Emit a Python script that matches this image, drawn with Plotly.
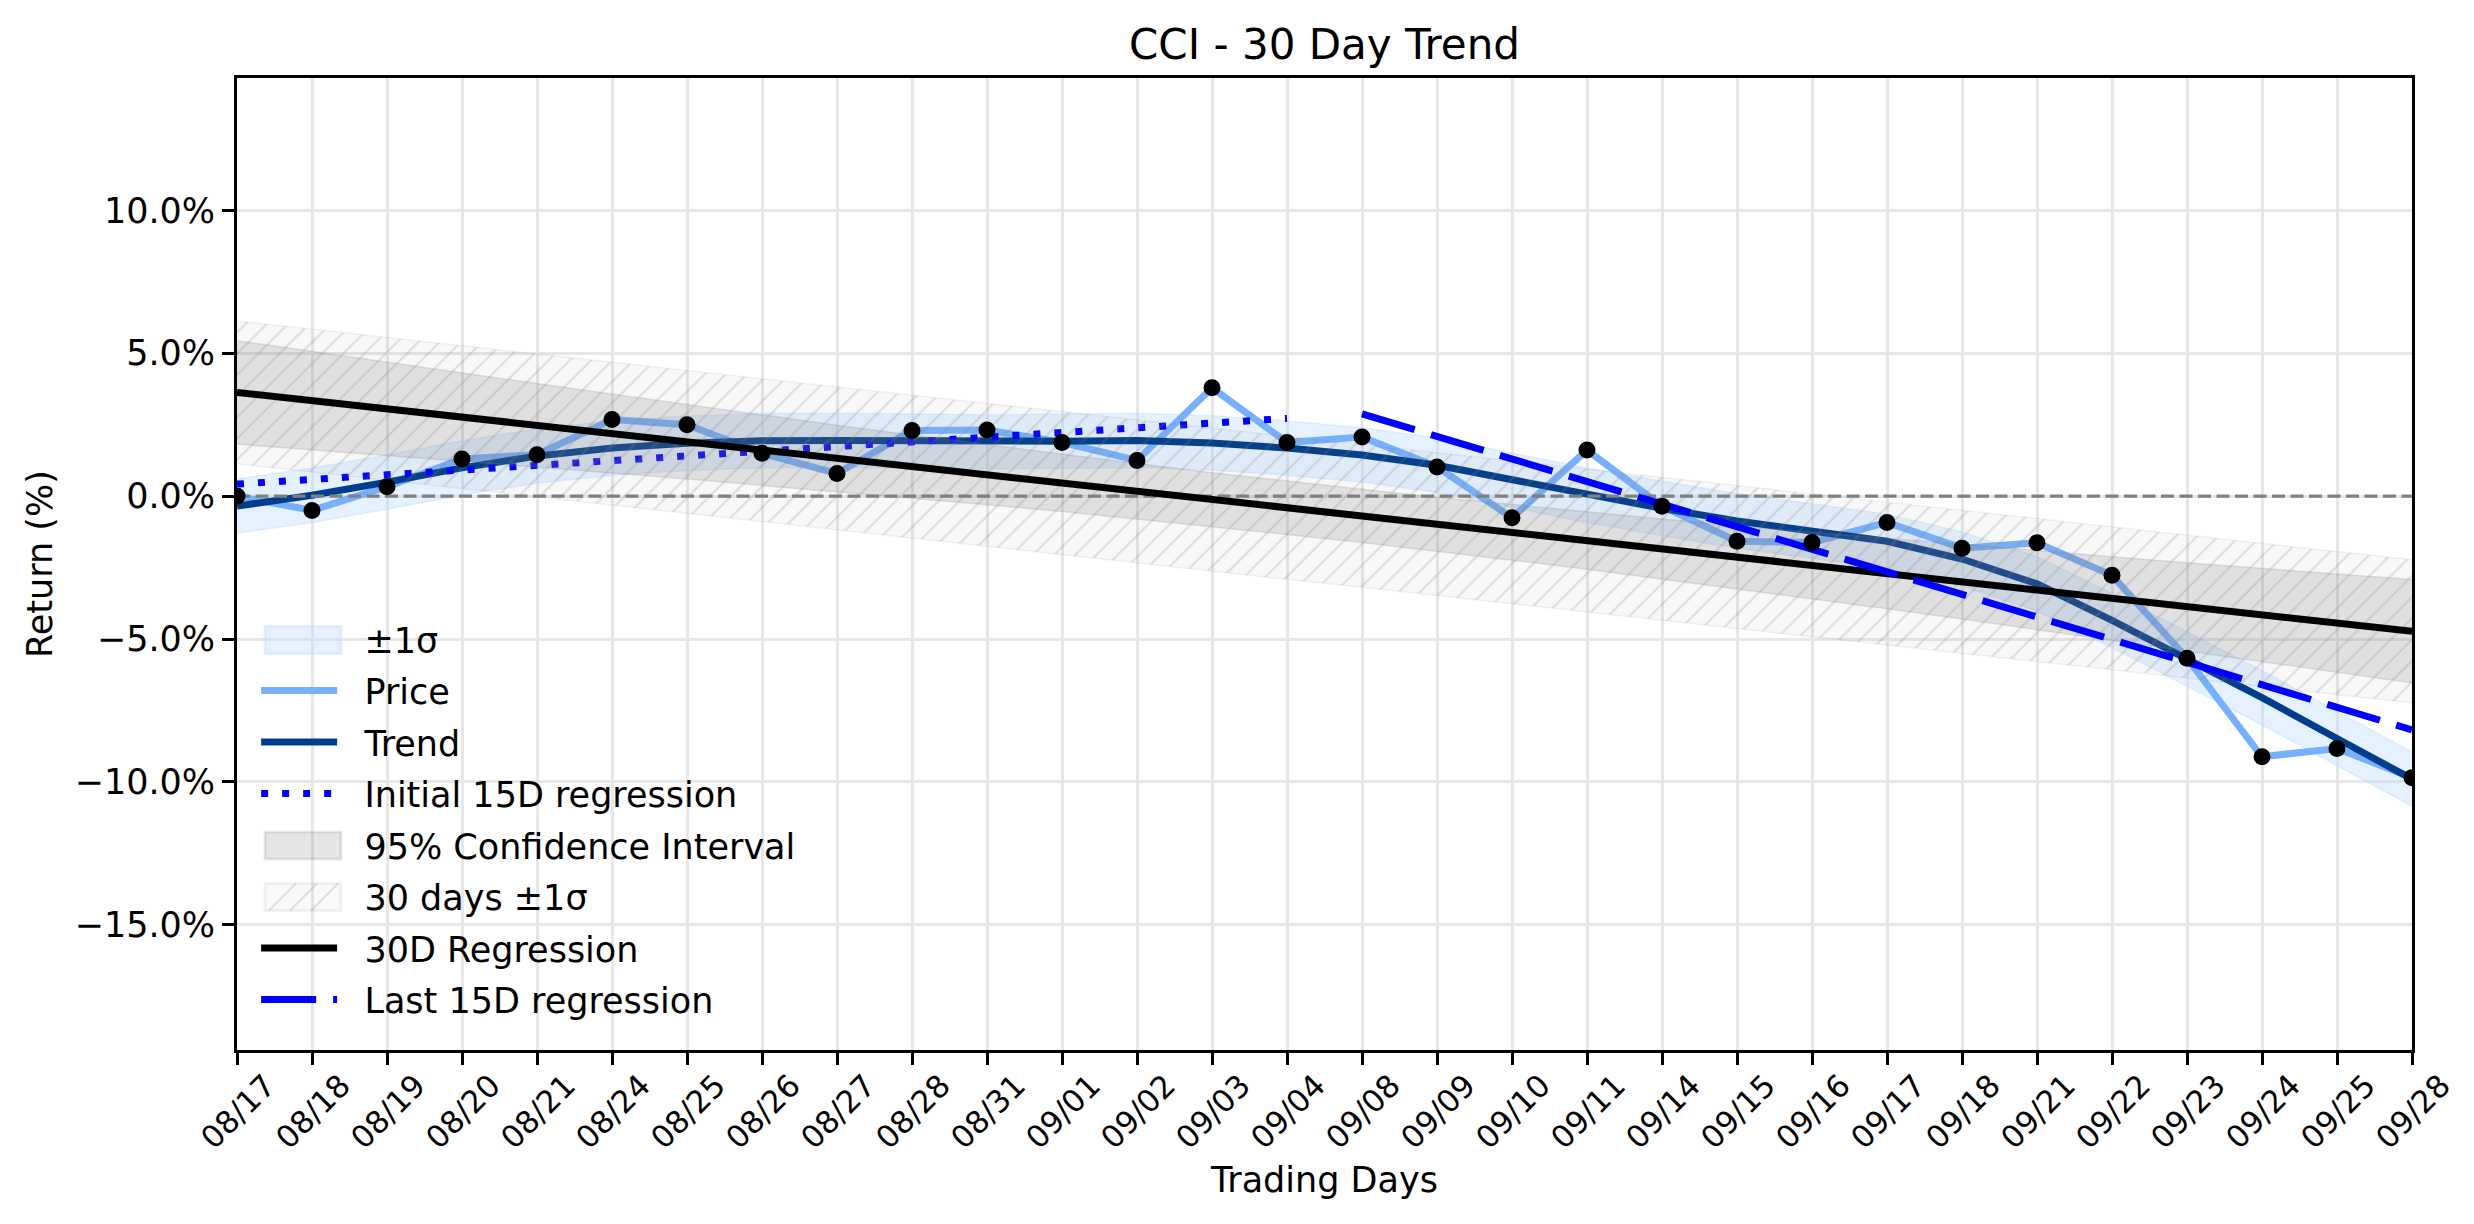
"""
CCI - 30 day trend chart rebuilt with plotly
"""
import plotly.graph_objects as go

# trading days on the x axis
dates = ["08/17", "08/18", "08/19", "08/20", "08/21", "08/24", "08/25", "08/26",
         "08/27", "08/28", "08/31", "09/01", "09/02", "09/03", "09/04", "09/08",
         "09/09", "09/10", "09/11", "09/14", "09/15", "09/16", "09/17", "09/18",
         "09/21", "09/22", "09/23", "09/24", "09/25", "09/28"]

# cumulative return (%)
price = [0.00, -0.50, 0.33, 1.30, 1.45, 2.68, 2.50, 1.50, 0.79, 2.30,
         2.31, 1.88, 1.25, 3.79, 1.88, 2.07, 1.02, -0.76, 1.61, -0.35,
         -1.58, -1.62, -0.92, -1.82, -1.63, -2.77, -5.67, -9.12, -8.83, -9.85]

# smoothed trend and its +-1 sigma width
trend = [-0.35, 0.03, 0.49, 0.99, 1.40, 1.68, 1.85, 1.94, 1.95, 1.93,
         1.90, 1.92, 1.95, 1.86, 1.68, 1.44, 1.08, 0.56, 0.03, -0.43,
         -0.87, -1.22, -1.58, -2.20, -3.07, -4.35, -5.70, -7.05, -8.48, -9.90]
trend_sigma = 0.95

# 30 day regression, its 95% CI half width and the residual sigma
reg_30d = [3.63, 3.34, 3.05, 2.77, 2.48, 2.19, 1.90, 1.61, 1.32, 1.04,
           0.75, 0.46, 0.17, -0.12, -0.41, -0.69, -0.98, -1.27, -1.56, -1.85,
           -2.14, -2.42, -2.71, -3.00, -3.29, -3.58, -3.87, -4.15, -4.44, -4.73]
ci_half = [1.81, 1.72, 1.63, 1.54, 1.46, 1.38, 1.30, 1.23, 1.16, 1.10,
           1.05, 1.00, 0.97, 0.94, 0.93, 0.93, 0.94, 0.97, 1.00, 1.05,
           1.10, 1.16, 1.23, 1.30, 1.38, 1.46, 1.54, 1.63, 1.72, 1.81]
sigma_30d = 2.5

# 15 day regressions
reg_first15 = [0.42, 0.58, 0.75, 0.91, 1.08, 1.24, 1.40, 1.57, 1.73, 1.90,
               2.06, 2.22, 2.39, 2.55, 2.72]
reg_last15 = [2.88, 2.09, 1.30, 0.51, -0.28, -1.07, -1.86, -2.65, -3.44, -4.23,
              -5.02, -5.81, -6.60, -7.39, -8.18]

zero_level = 0.0
y_ticks = [-15, -10, -5, 0, 5, 10]

FONT = "DejaVu Sans"
LW = 7
GAP = "\u00a0\u00a0"  # room between legend handle and label

# plot area size in px, used to place the legend patches
PLOT_W = 2175.5
PLOT_H = 972
LEG_ROW0 = 562      # px below the plot top of the first legend row
LEG_ROW_H = 51.4
LEG_HANDLE = (28, 104)
LEG_PATCH_H = 27

BLUE_BAND = "rgba(190,220,255,0.4)"
CI_FILL = "rgba(128,128,128,0.2)"
SD_FILL = "rgba(128,128,128,0.05)"
SD_EDGE = "rgba(128,128,128,0.1)"
SD_HATCH = "rgba(128,128,128,0.22)"


def band(fig, x, lower, upper, fillcolor, linecolor, pattern=None):
    """
    Adds a filled band between lower and upper
    """
    fig.add_scatter(x=x, y=lower, mode="lines", showlegend=False,
                    line=dict(color=linecolor, width=1.5), hoverinfo="skip")
    fig.add_scatter(x=x, y=upper, mode="lines", fill="tonexty", showlegend=False,
                    fillcolor=fillcolor, fillpattern=pattern,
                    line=dict(color=linecolor, width=1.5), hoverinfo="skip")


def legend_only(fig, name, group):
    """
    Legend entry whose handle is drawn as a patch shape
    """
    fig.add_scatter(x=[None], y=[None], mode="lines", name=GAP + name,
                    legendgroup=group, line=dict(width=0, color="rgba(0,0,0,0)"))


def legend_patch(fig, row, fill, edge, hatch=False):
    """
    Draws a matplotlib like legend patch for the given legend row
    """
    cy = LEG_ROW0 + row * LEG_ROW_H
    top = 1 - (cy - LEG_PATCH_H / 2) / PLOT_H
    bottom = 1 - (cy + LEG_PATCH_H / 2) / PLOT_H
    x0, x1 = LEG_HANDLE[0] / PLOT_W, LEG_HANDLE[1] / PLOT_W
    fig.add_shape(type="rect", xref="paper", yref="paper", x0=x0, x1=x1,
                  y0=bottom, y1=top, fillcolor=fill, line=dict(color=edge, width=2.8))
    if hatch:
        for start in (4, 25, 46):
            sx = (LEG_HANDLE[0] + start) / PLOT_W
            ex = (LEG_HANDLE[0] + start + LEG_PATCH_H) / PLOT_W
            fig.add_shape(type="line", xref="paper", yref="paper", x0=sx, x1=ex,
                          y0=bottom, y1=top, line=dict(color=SD_HATCH, width=2))


def build() -> go.Figure:
    """
    Builds the chart
    """
    fig = go.Figure()

    band(fig, dates, [t - trend_sigma for t in trend], [t + trend_sigma for t in trend],
         BLUE_BAND, BLUE_BAND)
    legend_only(fig, "±1σ", "g1")
    fig.add_scatter(x=dates, y=price, mode="lines", name=GAP + "Price", legendgroup="g2",
                    line=dict(color="#77b1fd", width=LW))
    fig.add_scatter(x=dates, y=trend, mode="lines", name=GAP + "Trend", legendgroup="g3",
                    line=dict(color="#003d8c", width=LW))
    fig.add_scatter(x=dates[:15], y=reg_first15, mode="lines",
                    name=GAP + "Initial 15D regression", legendgroup="g4",
                    line=dict(color="#0000ff", width=LW, dash="7px,14px"))
    band(fig, dates, [r - c for r, c in zip(reg_30d, ci_half)],
         [r + c for r, c in zip(reg_30d, ci_half)], CI_FILL, CI_FILL)
    legend_only(fig, "95% Confidence Interval", "g5")
    band(fig, dates, [r - sigma_30d for r in reg_30d], [r + sigma_30d for r in reg_30d],
         SD_FILL, SD_EDGE,
         pattern=dict(shape="/", size=15, solidity=0.15, fgcolor=SD_HATCH,
                      bgcolor=SD_FILL, fillmode="replace"))
    legend_only(fig, "30 days ±1σ", "g6")
    fig.add_scatter(x=dates, y=[zero_level] * len(dates), mode="lines", showlegend=False,
                    line=dict(color="#808080", width=3.3, dash="13px,5.5px"),
                    hoverinfo="skip")
    fig.add_scatter(x=dates, y=reg_30d, mode="lines", name=GAP + "30D Regression",
                    legendgroup="g7", line=dict(color="black", width=LW))
    fig.add_scatter(x=dates[15:], y=reg_last15, mode="lines",
                    name=GAP + "Last 15D regression", legendgroup="g8",
                    line=dict(color="#0000ff", width=LW, dash="55px,17px"))
    fig.add_scatter(x=dates, y=price, mode="markers", showlegend=False,
                    marker=dict(color="black", size=17))

    legend_patch(fig, 0, BLUE_BAND, BLUE_BAND)
    legend_patch(fig, 4, CI_FILL, CI_FILL)
    legend_patch(fig, 5, SD_FILL, SD_EDGE, hatch=True)

    # rotated date labels centred on their ticks
    for d in dates:
        fig.add_annotation(x=d, y=-0.0633, xref="x", yref="paper", text=d,
                           textangle=-45, showarrow=False, xanchor="center",
                           yanchor="middle", font=dict(size=31, color="black"))

    axis_common = dict(showline=True, linecolor="black", linewidth=2.8, mirror=True,
                       ticks="outside", ticklen=12, tickwidth=2.8, tickcolor="black",
                       showgrid=True, gridcolor="#e7e7e7", gridwidth=2.8,
                       zeroline=False)
    fig.update_xaxes(type="category", range=[0, len(dates) - 1], showticklabels=False,
                     title=dict(text="Trading Days", standoff=104,
                                font=dict(size=35, color="black")),
                     **axis_common)
    fig.update_yaxes(range=[-19.38, 14.63], tickvals=y_ticks,
                     ticktext=[f"{v:.1f}%".replace("-", "\u2212") for v in y_ticks],
                     tickfont=dict(size=35, color="black"),
                     title=dict(text="Return (%)", standoff=12,
                                font=dict(size=35, color="black")),
                     **axis_common)

    # the page adds an 8px body margin, so the figure is kept 16px smaller
    fig.update_layout(
        width=2458, height=1208,
        margin=dict(l=229, r=54, t=70, b=166, autoexpand=False),
        plot_bgcolor="white", paper_bgcolor="white",
        font=dict(family=FONT, color="black"),
        title=dict(text="CCI - 30 Day Trend", x=0.5, xref="paper", xanchor="center",
                   y=1 - 36 / 1208, yref="container", yanchor="middle",
                   font=dict(size=42, color="black")),
        legend=dict(x=0.0088, y=0.453, xanchor="left", yanchor="top",
                    bgcolor="rgba(0,0,0,0)", font=dict(size=35, color="black"),
                    tracegroupgap=3, itemwidth=76, traceorder="grouped"),
        showlegend=True,
    )
    return fig


def main():
    """
    Writes the chart
    """
    fig = build()
    fig.write_html("out.html")


if __name__ == "__main__":
    main()
